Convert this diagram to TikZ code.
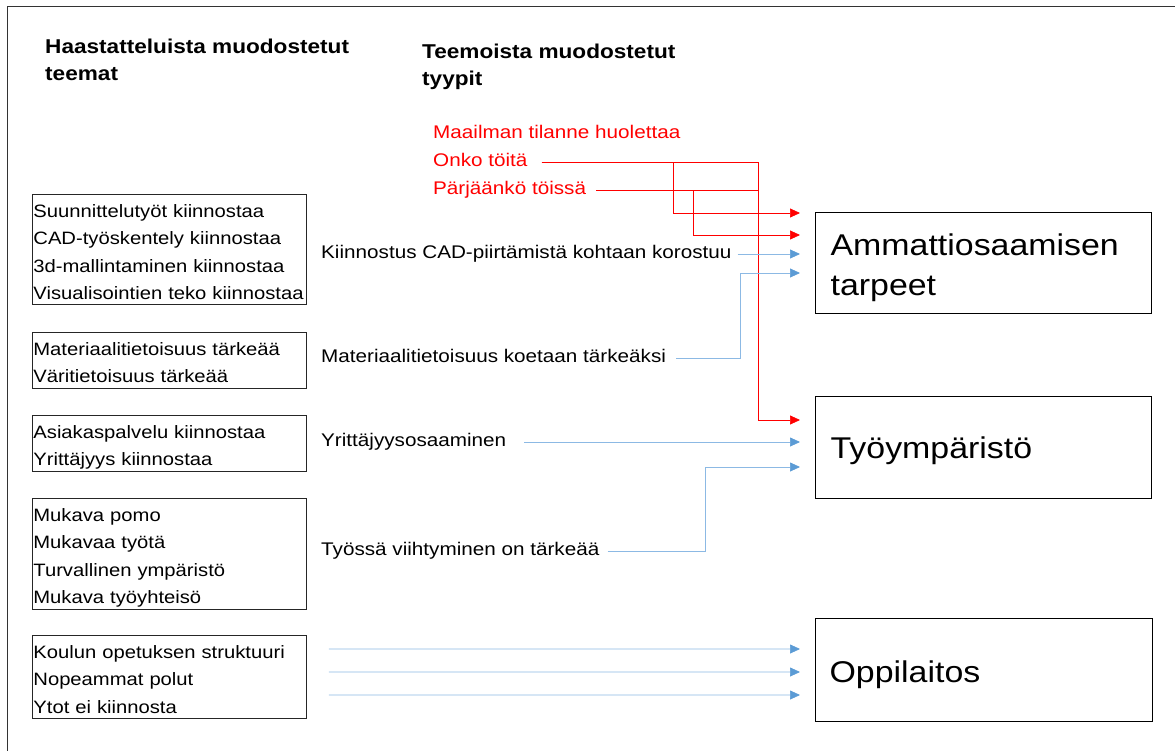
\documentclass[tikz,border=0pt]{standalone}
\usepackage{fontspec}
\setmainfont[FakeStretch=1.13]{Liberation Sans}
\usetikzlibrary{arrows.meta}
\definecolor{bluec}{RGB}{91,155,213}
\definecolor{bluel}{RGB}{140,185,228}
\definecolor{redc}{RGB}{255,0,0}
\tikzset{
  hdr/.style={inner sep=0pt, align=left, anchor=north west, font=\fontsize{20}{27}\selectfont\bfseries},
  lbox/.style={draw=black!85, line width=0.8pt, inner xsep=1pt, inner ysep=0pt, text width=272pt, align=left, anchor=north west, font=\fontsize{17.9}{27.5}\selectfont},
  bigbox/.style={draw=black, line width=1.2pt, inner xsep=15pt, inner ysep=0pt, text width=306pt, align=left, anchor=north west, font=\fontsize{30}{40}\selectfont},
  mtxt/.style={inner sep=0pt, text height=13pt, text depth=4pt, anchor=base west, font=\fontsize{18.3}{22}\selectfont},
  rtxt/.style={mtxt, text=redc},
  redarr/.style={draw=redc, line width=0.7pt, -{Triangle[length=10pt,width=9pt]}},
  redln/.style={draw=redc, line width=0.7pt},
  bluearr/.style={draw=bluel, line width=0.7pt, -{Triangle[length=10pt,width=9pt,color=bluec]}}
}
\begin{document}
\begin{tikzpicture}[x=1pt,y=-1pt]
\useasboundingbox (0,0) rectangle (1175,751);
% outer frame
\draw[black!80, line width=1pt] (7,751) -- (7,7) -- (1175,7);

% headers
\node[hdr] (h1) at (45,38) {\rule{0pt}{15pt}Haastatteluista muodostetut\\teemat};
\node[hdr] (h2) at (422,43) {\rule{0pt}{15pt}Teemoista muodostetut\\tyypit};

% left theme boxes
\node[lbox] (b1) at (32,194) {\rule{0pt}{23pt}Suunnittelutyöt kiinnostaa\\CAD-työskentely kiinnostaa\\3d-mallintaminen kiinnostaa\\Visualisointien teko kiinnostaa\rule[-5pt]{0pt}{5pt}};
\node[lbox] (b2) at (32,332) {\rule{0pt}{23pt}Materiaalitietoisuus tärkeää\\Väritietoisuus tärkeää\rule[-5pt]{0pt}{5pt}};
\node[lbox] (b3) at (32,415) {\rule{0pt}{23pt}Asiakaspalvelu kiinnostaa\\Yrittäjyys kiinnostaa\rule[-5pt]{0pt}{5pt}};
\node[lbox] (b4) at (32,498) {\rule{0pt}{23pt}Mukava pomo\\Mukavaa työtä\\Turvallinen ympäristö\\Mukava työyhteisö\rule[-5pt]{0pt}{5pt}};
\node[lbox] (b5) at (32,635) {\rule{0pt}{23pt}Koulun opetuksen struktuuri\\Nopeammat polut\\Ytot ei kiinnosta\rule[-5pt]{0pt}{5pt}};

% red texts
\node[rtxt] (maa) at (433,138.5) {Maailman tilanne huolettaa};
\node[rtxt] (onko) at (433,166.5) {Onko töitä};
\node[rtxt] (parj) at (433,194.5) {Pärjäänkö töissä};

% middle types
\node[mtxt] (kiin) at (321,258.5) {Kiinnostus CAD-piirtämistä kohtaan korostuu};
\node[mtxt] (mat) at (321,362.5) {Materiaalitietoisuus koetaan tärkeäksi};
\node[mtxt] (yrit) at (321,446.5) {Yrittäjyysosaaminen};
\node[mtxt] (tyos) at (321,555.5) {Työssä viihtyminen on tärkeää};

% target boxes
\node[bigbox] (amm) at (815,212) {\rule{0pt}{43pt}Ammattiosaamisen\\tarpeet\rule[-18pt]{0pt}{18pt}};
\node[bigbox] (tyo) at (815,396) {\rule{0pt}{62pt}Työympäristö\rule[-40pt]{0pt}{40pt}};
\node[bigbox, inner xsep=14pt, text width=309pt] (opp) at (815,618) {\rule{0pt}{64pt}Oppilaitos\rule[-39pt]{0pt}{39pt}};

% arrow end points
\coordinate (ra1) at (800,213);
\coordinate (ra2) at (800,235);
\coordinate (ba1) at (800,254);
\coordinate (ba2) at (800,273);
\coordinate (rt1) at (800,420);
\coordinate (bt2) at (800,442);
\coordinate (bt3) at (800,467);
\coordinate (bo1) at (800,649);
\coordinate (bo2) at (800,672);
\coordinate (bo3) at (800,695);

% red connectors
\draw[redarr] ([xshift=14pt]onko.east) -- (758,162) |- (rt1);
\draw[redarr] ([xshift=14pt]onko.east) -- (673,162) |- (ra1);
\draw[redln] ([xshift=10pt]parj.east) -- (758,190);
\draw[redarr] ([xshift=10pt]parj.east) -- (693,190) |- (ra2);

% blue connectors
\draw[bluearr] ([xshift=6pt]kiin.east) -- (ba1);
\draw[bluearr] ([xshift=10pt]mat.east) -- (740,358) |- (ba2);
\draw[bluearr] ([xshift=18pt]yrit.east) -- (bt2);
\draw[bluearr] ([xshift=8pt]tyos.east) -- (705,551) |- (bt3);
\draw[bluearr] ([xshift=22pt,yshift=28pt]b5.east) -- (bo1);
\draw[bluearr] ([xshift=22pt,yshift=5pt]b5.east) -- (bo2);
\draw[bluearr] ([xshift=22pt,yshift=-18pt]b5.east) -- (bo3);
\end{tikzpicture}
\end{document}
